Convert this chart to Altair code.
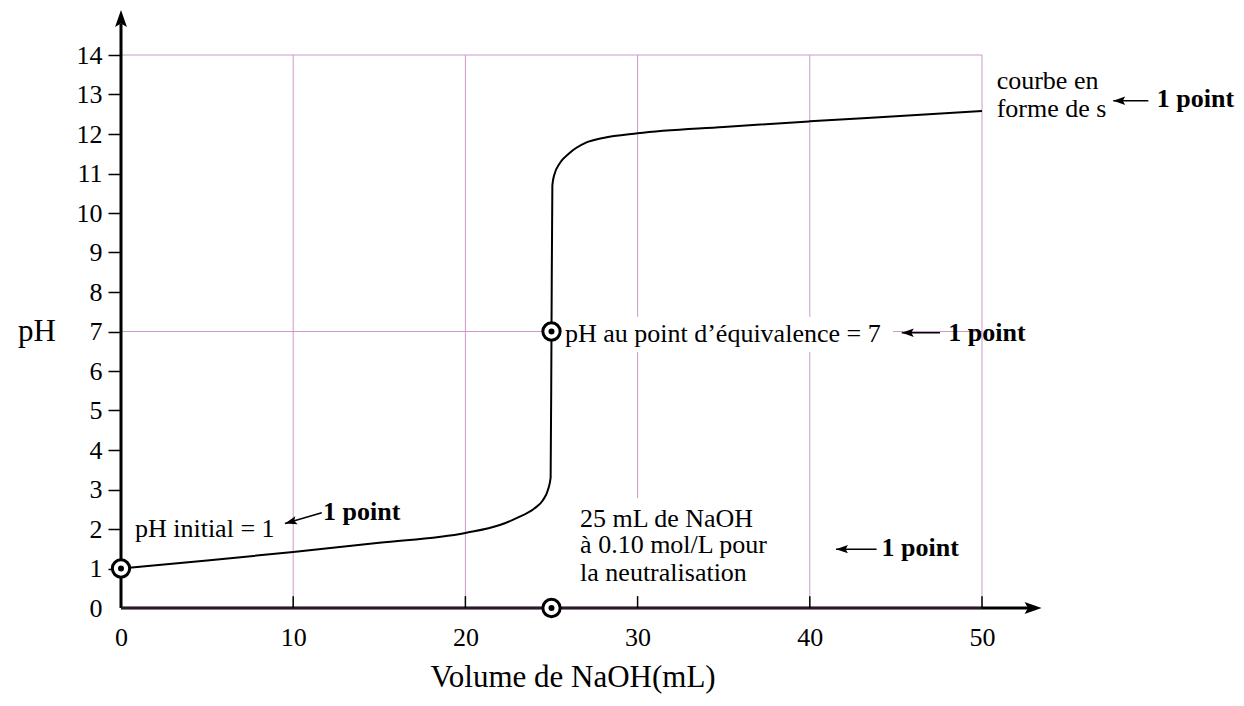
import altair as alt
import pandas as pd

# ---- titration curve ----
vol = [0, 5, 10, 15, 20, 22, 23, 24, 24.5, 24.8, 24.95, 25.0, 25.05, 25.15,
       25.5, 26.0, 27.0, 28.0, 30, 35, 40, 45, 50]
ph = [1.0, 1.2, 1.42, 1.65, 1.9, 2.1, 2.28, 2.52, 2.73, 3.0, 3.3, 7.0, 10.7, 10.95,
      11.27, 11.5, 11.78, 11.9, 12.02, 12.18, 12.32, 12.45, 12.58]

x_labels = [0, 10, 20, 30, 40, 50]
x_ticks = [10, 20, 30, 40, 50]
y_labels = list(range(15))

# grid segments (gaps where text boxes hide them)
gv_x = [10, 20, 30, 30, 40, 40, 50]
gv_y1 = [0, 0, 7.37, 2.78, 7.37, 0, 0]
gv_y2 = [14, 14, 14, 6.48, 14, 6.48, 14]
gh_y = [14, 7, 7]
gh_x1 = [0, 0, 44.83]
gh_x2 = [50, 25, 50]

# marked points
mark_x = [0, 25, 25]
mark_y = [1, 7, 0]

# annotations (normal text)
note_text = ["pH initial = 1", "pH au point d\u2019\u00e9quivalence = 7", "courbe en", "forme de s",
             "25 mL de NaOH", "\u00e0 0.10 mol/L pour", "la neutralisation"]
note_x = [0.81, 25.78, 50.85, 50.85, 26.66, 26.66, 26.66]
note_y = [1.80, 6.73, 13.13, 12.42, 2.06, 1.39, 0.68]

# bold "1 point" labels
pt_text = ["1 point", "1 point", "1 point", "1 point"]
pt_x = [11.73, 48.04, 60.15, 44.17]
pt_y = [2.23, 6.77, 12.68, 1.32]

# arrows
ar_x1 = [11.66, 47.56, 59.66, 43.88]
ar_y1 = [2.41, 6.97, 12.84, 1.49]
ar_x2 = [9.52, 45.34, 57.62, 41.52]
ar_y2 = [2.14, 6.97, 12.84, 1.49]
ar_angle = [164, 180, 180, 180]

FONT = "Liberation Serif"
GRID = "#cc99cc"
ARROW = "M0,0L-2,-0.7L-1.6,0L-2,0.7Z"

xs = alt.Scale(domain=[0, 50], nice=False, zero=False)
ys = alt.Scale(domain=[0, 14], nice=False, zero=False)
xaxis = alt.Axis(values=x_labels, domain=False, ticks=False, tickSize=0, grid=False,
                 labelFont=FONT, labelFontSize=26, labelColor="black", labelPadding=16,
                 labelFlush=False, labelOverlap=False, title=None)
yaxis = alt.Axis(values=y_labels, domain=False, grid=False, tickSize=13, tickWidth=1.5,
                 tickColor=alt.condition("datum.value === 0", alt.value("transparent"), alt.value("black")),
                 labelFont=FONT, labelFontSize=26, labelColor="black", labelPadding=6,
                 labelBaseline="middle", labelFlush=False, labelOverlap=False, title=None)


def X(f):
    return alt.X(f, type="quantitative", scale=xs, axis=xaxis, title=None)


def Y(f):
    return alt.Y(f, type="quantitative", scale=ys, axis=yaxis, title=None)


gv = pd.DataFrame({"x": gv_x, "y1": gv_y1, "y2": gv_y2})
gh = pd.DataFrame({"y": gh_y, "x1": gh_x1, "x2": gh_x2})
grid_v = alt.Chart(gv).mark_rule(color=GRID, strokeWidth=1).encode(x=X("x"), y=Y("y1"), y2="y2")
grid_h = alt.Chart(gh).mark_rule(color=GRID, strokeWidth=1).encode(y=Y("y"), x=X("x1"), x2="x2")

xt = pd.DataFrame({"x": x_ticks, "y1": [0] * len(x_ticks), "y2": [0.3] * len(x_ticks)})
xticks = alt.Chart(xt).mark_rule(color="black", strokeWidth=1.5).encode(x=X("x"), y=Y("y1"), y2="y2")

axes_df = pd.DataFrame({"x1": [0, 0], "x2": [53.0, 0], "y1": [0, 0], "y2": [0, 14.8]})
axis_lines = alt.Chart(axes_df).mark_rule(color="black", strokeWidth=3).encode(
    x=X("x1"), x2="x2", y=Y("y1"), y2="y2")
purple = alt.Chart(pd.DataFrame({"x1": [0], "x2": [50], "y": [0]})).mark_rule(
    color="#5c2d5c", strokeWidth=1).encode(x=X("x1"), x2="x2", y=Y("y"))

heads = pd.DataFrame({"x": [53.46, 0], "y": [0, 15.14], "a": [0, 270]})
axis_heads = alt.Chart(heads).mark_point(shape=ARROW, filled=True, size=289, color="black",
                                         opacity=1, strokeWidth=0).encode(
    x=X("x"), y=Y("y"), angle=alt.Angle("a:Q", scale=None))

curve = alt.Chart(pd.DataFrame({"v": vol, "p": ph})).mark_line(
    color="black", strokeWidth=2, interpolate="monotone").encode(x=X("v"), y=Y("p"))

mk = pd.DataFrame({"x": mark_x, "y": mark_y})
rings = alt.Chart(mk).mark_point(shape="circle", size=300, filled=False, fill="white",
                                 stroke="black", strokeWidth=3, opacity=1).encode(x=X("x"), y=Y("y"))
dots = alt.Chart(mk).mark_point(shape="circle", size=36, filled=True, color="black",
                                opacity=1).encode(x=X("x"), y=Y("y"))

notes = alt.Chart(pd.DataFrame({"t": note_text, "x": note_x, "y": note_y})).mark_text(
    font=FONT, fontSize=26, align="left", baseline="alphabetic", color="black").encode(
    x=X("x"), y=Y("y"), text="t:N")
pts = alt.Chart(pd.DataFrame({"t": pt_text, "x": pt_x, "y": pt_y})).mark_text(
    font=FONT, fontSize=26, fontWeight="bold", align="left", baseline="alphabetic",
    color="black").encode(x=X("x"), y=Y("y"), text="t:N")

ar = pd.DataFrame({"x1": ar_x1, "y1": ar_y1, "x2": ar_x2, "y2": ar_y2, "a": ar_angle})
ar_lines = alt.Chart(ar).mark_rule(color="black", strokeWidth=1.5).encode(
    x=X("x1"), y=Y("y1"), x2="x2", y2="y2")
ar_heads = alt.Chart(ar).mark_point(shape=ARROW, filled=True, size=144, color="black",
                                    opacity=1, strokeWidth=0).encode(
    x=X("x2"), y=Y("y2"), angle=alt.Angle("a:Q", scale=None))

titles = alt.Chart(pd.DataFrame({"t": ["Volume de NaOH(mL)", "pH"], "x": [26.25, -4.88],
                                 "y": [-2.0, 6.76]})).mark_text(
    font=FONT, fontSize=31, align="center", baseline="alphabetic", color="black").encode(
    x=X("x"), y=Y("y"), text="t:N")

chart = alt.layer(grid_v, grid_h, axis_lines, purple, xticks, axis_heads, curve, rings, dots,
                  notes, pts, ar_lines, ar_heads, titles).properties(
    width=861, height=553,
    autosize=alt.AutoSizeParams(type="none"),
    padding={"left": 113, "top": 47, "right": 254, "bottom": 90},
).configure_view(stroke=None)

chart.save("out.html", embed_options={"renderer": "svg", "actions": False})
